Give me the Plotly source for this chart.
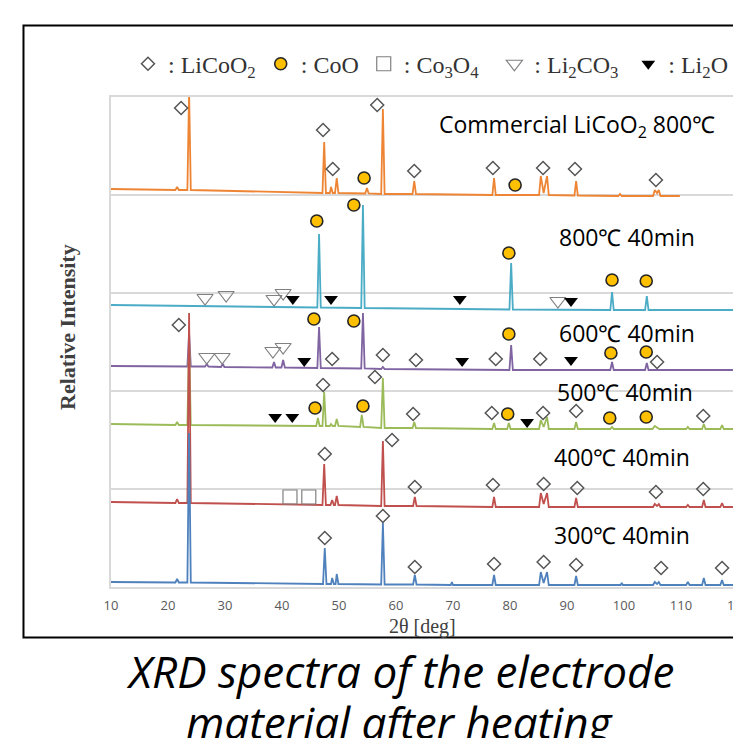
import plotly.graph_objects as go

# ---------------- data (2θ in degrees, intensity in arbitrary units) ----------------
tick_vals = [10, 20, 30, 40, 50, 60, 70, 80, 90, 100, 110]
tick_text = ["10", "20", "30", "40", "50", "60", "70", "80", "90", "100", "110"]

# spectra as (2θ, relative intensity) vertices
spec_300 = [(10, 3), (21.3, 2.5), (21.6, 6), (21.9, 2.5), (23.4, 2.5), (23.7, 152), (24.0, 2.5),
            (47.2, 1), (47.5, 37), (47.8, 1), (48.6, 1), (48.8, 7), (49.1, 1), (49.4, 1), (49.6, 11), (49.9, 1),
            (57.4, 0.5), (57.7, 62), (58.0, 0.5), (63.0, 0.5), (63.3, 10), (63.6, 0.5),
            (69.6, 0), (69.8, 3), (70.0, 0), (76.9, 0), (77.2, 10), (77.5, 0),
            (85.1, 0), (85.4, 13), (85.9, 2), (86.5, 13), (86.8, 0), (91.3, 0), (91.6, 9), (91.9, 0),
            (99.4, 0), (99.6, 2), (99.8, 0), (105.1, 0), (105.4, 3), (105.8, 1), (106.1, 3), (106.4, 0),
            (110.9, 0), (111.2, 3), (111.5, 0), (113.7, 0), (114.0, 7), (114.3, 0),
            (116.9, 0), (117.2, 5), (117.5, 0), (119.5, 0)]
spec_400 = [(10, 5), (21.3, 4), (21.6, 8), (21.9, 4), (23.4, 4), (23.7, 194), (24.0, 4),
            (47.1, 2), (47.4, 43), (47.7, 2), (48.5, 2), (48.8, 7), (49.1, 2), (49.3, 2), (49.6, 11), (49.9, 2),
            (57.4, 1), (57.7, 66), (58.0, 1), (63.0, 1), (63.3, 10), (63.6, 1),
            (76.9, 0), (77.2, 10), (77.5, 0), (85.1, 0), (85.4, 14), (85.9, 3), (86.5, 14), (86.8, 0),
            (91.3, 0), (91.6, 9), (91.9, 0), (105.1, 0), (105.4, 3), (105.8, 1), (106.1, 3), (106.4, 0),
            (110.9, 0), (111.2, 2), (111.5, 0), (113.7, 0), (114.0, 7), (114.3, 0),
            (116.9, 0), (117.2, 4), (117.5, 0), (119.5, 0)]
spec_500 = [(10, 5), (21.3, 4), (21.6, 7), (21.9, 4), (23.4, 4), (23.7, 90), (24.0, 4),
            (46.0, 3), (46.3, 11), (46.6, 3), (47.1, 3), (47.4, 37), (47.7, 3), (48.4, 3), (48.6, 5), (48.9, 3),
            (49.3, 3), (49.6, 10), (49.9, 3), (53.7, 2), (54.0, 14), (54.3, 2), (57.4, 1), (57.7, 51), (58.0, 1),
            (62.9, 1), (63.2, 7), (63.5, 1), (76.9, 0), (77.2, 6), (77.5, 0), (79.5, 0), (79.8, 6), (80.1, 0),
            (85.1, 0), (85.4, 9), (85.9, 2), (86.5, 12), (86.8, 0), (91.3, 0), (91.6, 7), (91.9, 0),
            (97.6, 0), (97.9, 2), (98.2, 0), (105.0, 0), (105.4, 3), (106.2, 0), (110.9, 0), (111.2, 2), (111.5, 0),
            (113.7, 0), (114.0, 5), (114.3, 0), (116.9, 0), (117.2, 4), (117.5, 0), (119.5, 0)]
spec_600 = [(10, 4), (23.4, 3.5), (23.7, 37), (24.0, 3.5), (26.5, 3.5), (26.8, 6), (27.1, 3.5),
            (29.3, 3), (29.6, 6), (29.9, 3), (38.3, 2.5), (38.6, 8), (38.9, 2.5), (39.9, 2.5), (40.2, 10), (40.5, 2.5),
            (46.2, 2), (46.5, 43), (46.8, 2), (53.9, 1.5), (54.2, 57), (54.5, 1.5), (57.4, 1), (57.7, 3), (58.0, 1),
            (79.9, 0), (80.2, 25), (80.5, 0), (97.6, 0), (97.9, 8), (98.2, 0), (103.7, 0), (104.0, 7), (104.3, 0),
            (119.5, 0)]
spec_800 = [(10, 5), (40, 3), (46.2, 2.5), (46.5, 76), (46.8, 2.5), (53.9, 2), (54.2, 105), (54.5, 2),
            (70, 1), (79.9, 0.5), (80.2, 47), (80.5, 0.5), (97.6, 0), (97.9, 18), (98.2, 0),
            (103.7, 0), (104.0, 14), (104.3, 0), (119.5, 0)]
spec_com = [(10, 7), (21.3, 6), (21.6, 9), (21.9, 6), (23.4, 6), (23.7, 105), (24.0, 6),
            (47.1, 3), (47.4, 54), (47.7, 3), (48.4, 3), (48.6, 9), (48.9, 3), (49.3, 3), (49.6, 18), (49.9, 3),
            (54.6, 2.5), (54.9, 8), (55.2, 2.5), (57.4, 2), (57.7, 87), (58.0, 2), (62.9, 2), (63.2, 15), (63.5, 2),
            (76.9, 1), (77.2, 18), (77.5, 1), (85.1, 1), (85.4, 20), (85.9, 3), (86.5, 20), (86.8, 1),
            (91.3, 0.5), (91.6, 15), (91.9, 0.5), (99.0, 0), (99.3, 2), (99.6, 0),
            (105.1, 0), (105.4, 6), (105.8, 3), (106.1, 6), (106.4, 0), (109.8, 0)]

# phase marks (2θ, height above the spectrum's baseline)
licoo2_300 = [(47.5, 47), (57.7, 69), (63.3, 18), (77.2, 21), (85.9, 23), (91.6, 20), (106.5, 17), (117.2, 17)]
licoo2_400 = [(47.5, 53), (59.3, 67), (63.3, 20), (77.0, 22), (85.9, 23), (91.8, 19), (105.6, 15), (113.9, 18)]
co3o4_400 = [(41.4, 10), (44.7, 10)]
licoo2_500 = [(47.2, 44), (56.3, 52), (63.0, 15), (76.8, 16), (85.8, 16), (91.6, 18), (113.9, 13)]
coo_500 = [(45.8, 21), (54.2, 23), (79.6, 15), (97.5, 11), (103.9, 12)]
li2o_500 = [(38.8, 12), (41.8, 12), (83.0, 7)]
licoo2_600 = [(21.9, 45), (48.8, 11), (57.7, 15), (63.5, 10), (77.5, 11), (85.3, 11), (105.8, 8)]
coo_600 = [(45.6, 51), (52.6, 49), (79.8, 36), (97.7, 17), (103.9, 18)]
li2co3_600 = [(26.8, 13), (29.5, 13), (38.4, 19), (40.2, 23)]
li2o_600 = [(43.9, 9), (71.6, 9), (90.7, 10)]
coo_800 = [(46.1, 89), (52.6, 105), (79.8, 57), (97.9, 30), (103.9, 29)]
li2co3_800 = [(26.5, 12), (30.2, 15), (38.6, 11), (40.2, 17), (88.4, 9)]
li2o_800 = [(41.9, 11), (48.6, 11), (71.2, 11), (90.7, 9)]
licoo2_com = [(22.3, 88), (47.2, 66), (48.9, 27), (56.7, 91), (63.2, 25), (77.0, 28), (85.8, 28), (91.4, 27), (105.6, 16)]
coo_com = [(54.4, 18), (80.9, 11)]

sample_labels = ["Commercial LiCoO<sub>2</sub> 800℃", "800℃ 40min", "600℃ 40min",
                 "500℃ 40min", "400℃ 40min", "300℃ 40min"]
phase_names = [": LiCoO<sub>2</sub>", ": CoO", ": Co<sub>3</sub>O<sub>4</sub>\u00a0\u2009",
               ": Li<sub>2</sub>CO<sub>3</sub>\u2009", ": Li<sub>2</sub>O"]

# ---------------- layout / style ----------------
offsets = {"com": 391, "800": 277, "600": 217, "500": 158, "400": 80, "300": 2}
colors = {"com": "#EE8535", "800": "#4BACC6", "600": "#8064A2", "500": "#9BBB59",
          "400": "#C0504D", "300": "#4F81BD"}
spectra = {"com": spec_com, "800": spec_800, "600": spec_600, "500": spec_500,
           "400": spec_400, "300": spec_300}
draw_order = ["800", "com", "600", "500", "400", "300"]

fig = go.Figure()
for key in draw_order:
    pts = spectra[key]
    fig.add_trace(go.Scatter(
        x=[p[0] for p in pts], y=[p[1] + offsets[key] for p in pts],
        mode="lines", line=dict(color=colors[key], width=1.8),
        showlegend=False, hoverinfo="skip"))

phase_sets = [
    [("300", licoo2_300), ("400", licoo2_400), ("500", licoo2_500), ("600", licoo2_600), ("com", licoo2_com)],
    [("500", coo_500), ("600", coo_600), ("800", coo_800), ("com", coo_com)],
    [("400", co3o4_400)],
    [("600", li2co3_600), ("800", li2co3_800)],
    [("500", li2o_500), ("600", li2o_600), ("800", li2o_800)],
]
phase_styles = [
    dict(symbol="diamond-open", size=10, color="#555555", line=dict(width=1.5, color="#555555")),
    dict(symbol="circle", size=12, color="#FFC000", line=dict(width=1.6, color="#262626")),
    dict(symbol="square-open", size=14, color="#808080", line=dict(width=1.2, color="#808080")),
    dict(symbol="triangle-down-open", size=14, color="#808080", line=dict(width=1.2, color="#808080")),
    dict(symbol="triangle-down", size=12, color="#000000", line=dict(width=0, color="#000000")),
]
for name, sets, style in zip(phase_names, phase_sets, phase_styles):
    xs, ys = [], []
    for key, pts in sets:
        xs += [p[0] for p in pts]
        ys += [p[1] + offsets[key] for p in pts]
    fig.add_trace(go.Scatter(x=xs, y=ys, mode="markers", marker=style, name=name,
                             hoverinfo="skip"))

label_pos = [(67.2, 462), (88.2, 350), (88.2, 254), (87.9, 195), (87.4, 130), (87.4, 52)]
annotations = []
for txt, (lx, ly) in zip(sample_labels, label_pos):
    annotations.append(dict(x=lx, y=ly, xref="x", yref="y", text=txt, showarrow=False,
                            xanchor="left", yanchor="middle",
                            font=dict(family="Open Sans", size=23, color="#000000")))

annotations += [
    dict(x=-0.069, y=0.531, xref="paper", yref="paper", text="Relative Intensity", textangle=-90,
         showarrow=False, xanchor="center", yanchor="middle",
         font=dict(family="Liberation Serif", size=22, color="#404040", weight="bold")),
    dict(x=0.5016, y=-0.0816, xref="paper", yref="paper", text="2θ [deg]", showarrow=False,
         xanchor="center", yanchor="middle",
         font=dict(family="Liberation Serif", size=20, color="#404040")),
    dict(x=1.008, y=-0.0367, xref="paper", yref="paper", text="120", showarrow=False,
         xanchor="center", yanchor="middle",
         font=dict(family="Open Sans", size=13, color="#595959")),
    dict(x=0.4646, y=-0.1715, xref="paper", yref="paper", text="<i>XRD spectra of the electrode</i>",
         showarrow=False, xanchor="center", yanchor="middle",
         font=dict(family="Open Sans", size=44, color="#000000")),
    dict(x=0.4646, y=-0.2755, xref="paper", yref="paper", text="<i>material after heating</i>",
         showarrow=False, xanchor="center", yanchor="middle",
         font=dict(family="Open Sans", size=44, color="#000000")),
]

fig.update_layout(
    width=733, height=738,
    margin=dict(l=111, r=0, t=97, b=151, autoexpand=False),
    paper_bgcolor="white", plot_bgcolor="white",
    annotations=annotations,
    shapes=[dict(type="rect", xref="paper", yref="paper", x0=-0.1407, x1=1.05, y0=-0.103, y1=1.146,
                 line=dict(color="black", width=2), fillcolor="rgba(0,0,0,0)", layer="above")],
    legend=dict(orientation="h", x=0.0273, xanchor="left", y=1.067, yanchor="middle",
                font=dict(family="Liberation Serif", size=24, color="#333333"),
                bgcolor="rgba(0,0,0,0)", itemwidth=30),
    xaxis=dict(range=[10, 119.12], tickvals=tick_vals, ticktext=tick_text, showgrid=False,
               zeroline=False, showline=True, linecolor="#d9d9d9", linewidth=1.5, mirror=True,
               ticks="", ticklabelstandoff=6,
               tickfont=dict(family="Open Sans", size=13, color="#595959")),
    yaxis=dict(range=[0, 490], showticklabels=False, showgrid=True, gridcolor="#d9d9d9", gridwidth=1.5,
               tick0=0, dtick=98, zeroline=False, showline=True, linecolor="#d9d9d9", linewidth=1.5,
               ticks=""),
)

fig.write_html("out.html")
